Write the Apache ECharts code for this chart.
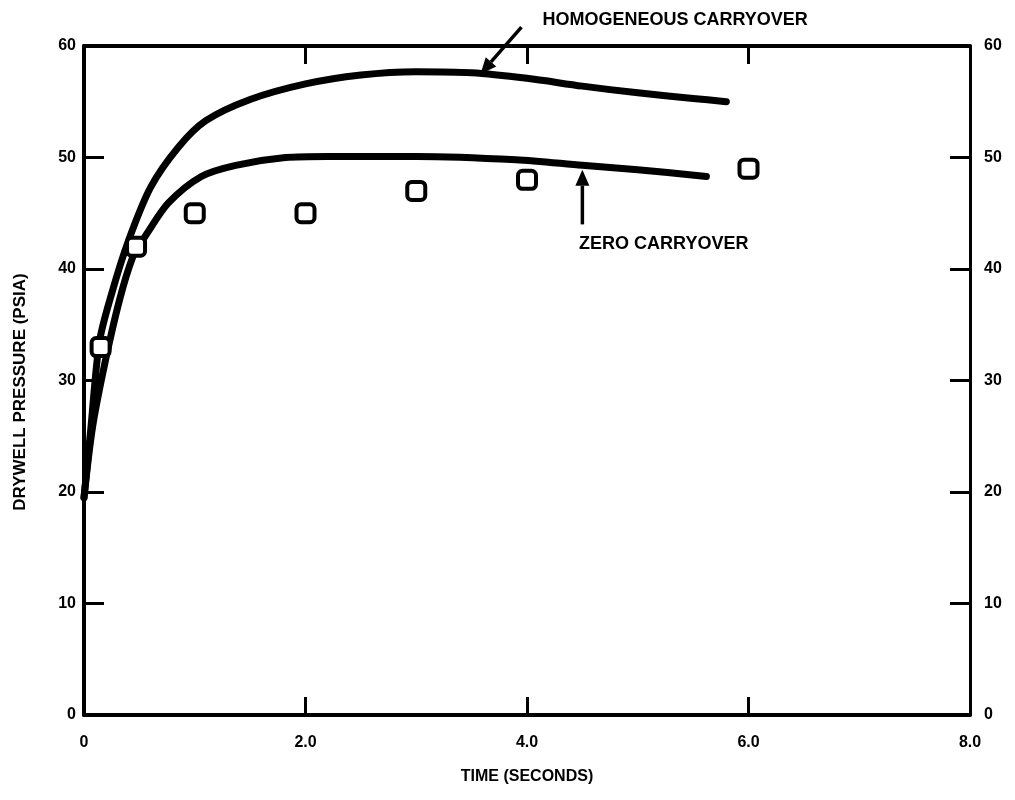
<!DOCTYPE html>
<html>
<head>
<meta charset="utf-8">
<script src="https://cdn.jsdelivr.net/npm/echarts@6/dist/echarts.min.js"></script>
<style>
  html, body { margin: 0; padding: 0; background: #fff; }
  #chart { width: 1015px; height: 800px; }
</style>
</head>
<body>
<div id="chart"></div>
<script>
// Drywell pressure transient: two analytical curves and measured points
const timeHomogeneous = [0, 0.06, 0.14, 0.25, 0.4, 0.6, 0.85, 1.1, 1.5, 2.0, 2.5, 3.0, 3.5, 4.0, 4.5, 5.0, 5.5, 5.8];
const pressureHomogeneous = [19.5, 25.5, 33.5, 37.8, 42.5, 47.3, 50.9, 53.3, 55.2, 56.6, 57.4, 57.7, 57.6, 57.1, 56.4, 55.8, 55.3, 55.0];

const timeZero = [0, 0.08, 0.22, 0.35, 0.47, 0.55, 0.76, 1.06, 1.37, 1.82, 2.2, 3.0, 3.9, 4.5, 5.0, 5.62];
const pressureZero = [19.5, 26, 33, 38.3, 41.8, 42.9, 45.9, 48.3, 49.3, 50.0, 50.1, 50.1, 49.8, 49.3, 48.9, 48.3];

const timeMeasured = [0.15, 0.47, 1.0, 2.0, 3.0, 4.0, 6.0];
const pressureMeasured = [33, 42, 45, 45, 47, 48, 49];

const xAxisTitle = 'TIME (SECONDS)';
const yAxisTitle = 'DRYWELL PRESSURE (PSIA)';

// Callout labels, anchored in data units (time, pressure)
const callouts = [
  { text: 'HOMOGENEOUS CARRYOVER', label: [4.14, 62.3], from: [3.95, 61.7], to: [3.58, 57.5] },
  { text: 'ZERO CARRYOVER', label: [4.47, 42.2], from: [4.5, 44.0], to: [4.5, 48.9] }
];

const FONT = "'Liberation Sans', 'DejaVu Sans', Arial, sans-serif";
const zip = (xs, ys) => xs.map((x, i) => [x, ys[i]]);

const chart = echarts.init(document.getElementById('chart'), null, { renderer: 'canvas' });

const labelStyle = { color: '#000', fontFamily: FONT, fontWeight: 'bold', fontSize: 16 };
const frameLine = w => ({ show: true, onZero: false, lineStyle: { color: '#000', width: w } });

const option = {
  backgroundColor: '#fff',
  animation: false,
  grid: { left: 84, right: 45, top: 46, bottom: 85 },
  xAxis: [
    {
      type: 'value', position: 'bottom', min: 0, max: 8, interval: 2,
      axisLine: frameLine(4),
      axisTick: { show: true, inside: true, length: 18, lineStyle: { color: '#000', width: 3 } },
      axisLabel: Object.assign({ margin: 20, formatter: v => v === 0 ? '0' : v.toFixed(1) }, labelStyle),
      splitLine: { show: false },
      name: xAxisTitle, nameLocation: 'middle', nameGap: 54,
      nameTextStyle: { color: '#000', fontFamily: FONT, fontWeight: 'bold', fontSize: 16 }
    },
    {
      type: 'value', position: 'top', min: 0, max: 8, interval: 2,
      axisLine: frameLine(4),
      axisTick: { show: true, inside: true, length: 18, lineStyle: { color: '#000', width: 3 } },
      axisLabel: { show: false },
      splitLine: { show: false }
    }
  ],
  yAxis: [
    {
      type: 'value', position: 'left', min: 0, max: 60, interval: 10,
      axisLine: frameLine(4),
      axisTick: { show: true, inside: true, length: 20, lineStyle: { color: '#000', width: 3 } },
      axisLabel: Object.assign({ margin: 8 }, labelStyle),
      splitLine: { show: false }
    },
    {
      type: 'value', position: 'right', min: 0, max: 60, interval: 10,
      axisLine: frameLine(3),
      axisTick: { show: true, inside: true, length: 20, lineStyle: { color: '#000', width: 3 } },
      axisLabel: Object.assign({ margin: 14 }, labelStyle),
      splitLine: { show: false }
    }
  ],
  series: [
    {
      name: 'Homogeneous carryover', type: 'line', data: zip(timeHomogeneous, pressureHomogeneous),
      smooth: 0.3, showSymbol: false, symbol: 'none', clip: false,
      lineStyle: { color: '#000', width: 7, cap: 'round', join: 'round' }, z: 2
    },
    {
      name: 'Zero carryover', type: 'line', data: zip(timeZero, pressureZero),
      smooth: 0.3, showSymbol: false, symbol: 'none', clip: false,
      lineStyle: { color: '#000', width: 7, cap: 'round', join: 'round' }, z: 2
    },
    {
      name: 'Measured', type: 'scatter', data: zip(timeMeasured, pressureMeasured),
      symbol: 'roundRect', symbolSize: 18,
      itemStyle: { color: '#fff', borderColor: '#000', borderWidth: 4, opacity: 1 }, z: 5
    }
  ],
  graphic: []
};

chart.setOption(option);

// Callout text, leader lines and arrowheads, positioned through the axis scales
function buildCallouts() {
  const els = [];
  callouts.forEach(c => {
    const p0 = chart.convertToPixel({ gridIndex: 0 }, c.from);
    const p1 = chart.convertToPixel({ gridIndex: 0 }, c.to);
    const pl = chart.convertToPixel({ gridIndex: 0 }, c.label);
    const dx = p1[0] - p0[0], dy = p1[1] - p0[1];
    const len = Math.hypot(dx, dy);
    const ux = dx / len, uy = dy / len;
    const headLen = 16, headHalf = 7;
    const bx = p1[0] - ux * headLen, by = p1[1] - uy * headLen;
    els.push({
      type: 'line', silent: true, z: 10,
      shape: { x1: p0[0], y1: p0[1], x2: bx, y2: by },
      style: { stroke: '#000', lineWidth: 3.5 }
    });
    els.push({
      type: 'polygon', silent: true, z: 10,
      shape: { points: [[p1[0], p1[1]], [bx - uy * headHalf, by + ux * headHalf], [bx + uy * headHalf, by - ux * headHalf]] },
      style: { fill: '#000' }
    });
    els.push({
      type: 'text', silent: true, z: 10, x: pl[0], y: pl[1],
      style: { text: c.text, fill: '#000', font: 'bold 18px ' + FONT, textAlign: 'left', textVerticalAlign: 'middle' }
    });
  });
  // Vertical y-axis title
  els.push({
    type: 'text', silent: true, z: 10, x: 20, y: 392, rotation: Math.PI / 2,
    style: { text: yAxisTitle, fill: '#000', font: 'bold 17px ' + FONT, textAlign: 'center', textVerticalAlign: 'middle' }
  });
  return els;
}

chart.setOption({ graphic: buildCallouts() });
</script>
</body>
</html>
